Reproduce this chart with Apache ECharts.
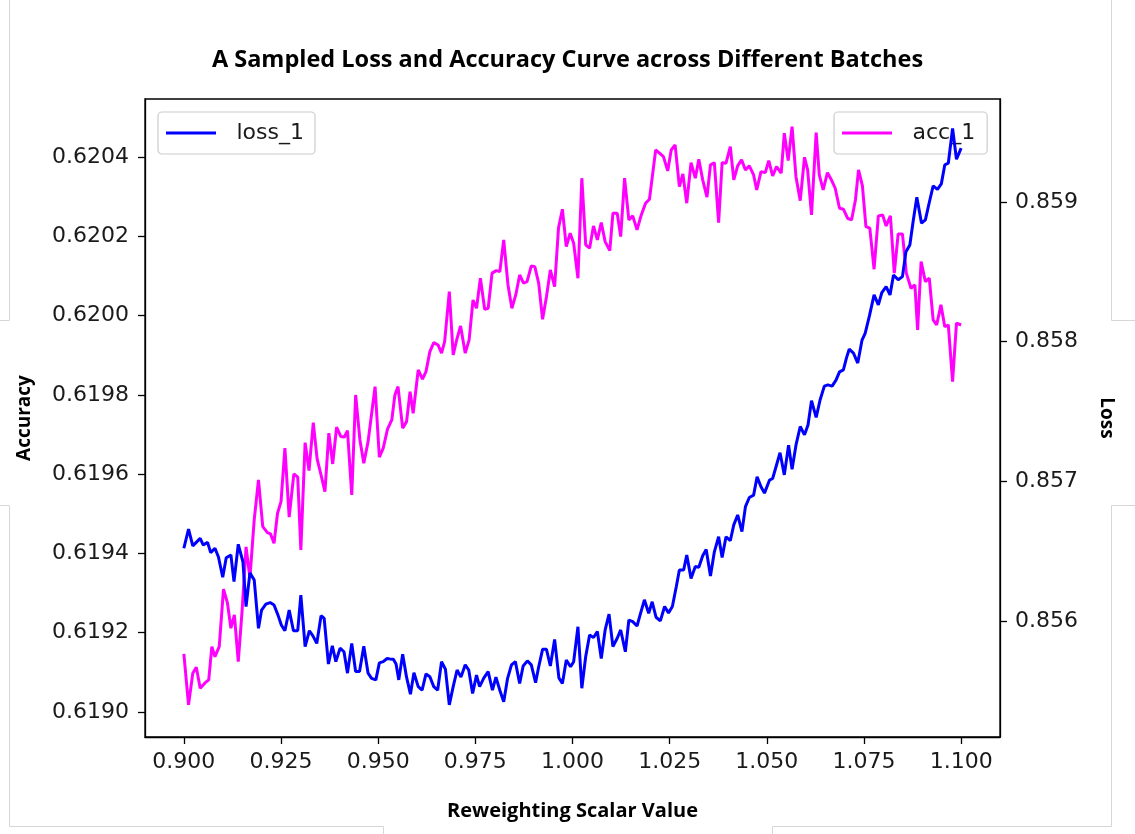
<!DOCTYPE html>
<html>
<head>
<meta charset="utf-8">
<script src="https://cdn.jsdelivr.net/npm/echarts@6/dist/echarts.min.js"></script>
<style>html,body{margin:0;padding:0;background:#fff;}#c{width:1135px;height:834px;}</style>
</head>
<body>
<div id="c"></div>
<script>
const TITLE = 'A Sampled Loss and Accuracy Curve across Different Batches';
const X_NAME = 'Reweighting Scalar Value';
const Y_LEFT_NAME = 'Accuracy';
const Y_RIGHT_NAME = 'Loss';
const xTicks = [0.900, 0.925, 0.950, 0.975, 1.000, 1.025, 1.050, 1.075, 1.100];
const leftTicks = [0.6190, 0.6192, 0.6194, 0.6196, 0.6198, 0.6200, 0.6202, 0.6204];
const rightTicks = [0.856, 0.857, 0.858, 0.859];

const lossX = [
0.9000,0.9012,0.9023,0.9042,0.9050,0.9061,0.9069,0.9080,0.9089,0.9100,
0.9109,0.9121,0.9129,0.9140,0.9152,0.9160,0.9170,0.9181,0.9192,0.9200,
0.9211,0.9222,0.9232,0.9242,0.9251,0.9260,0.9271,0.9282,0.9293,0.9301,
0.9312,0.9323,0.9332,0.9342,0.9353,0.9361,0.9372,0.9382,0.9391,0.9402,
0.9412,0.9421,0.9432,0.9442,0.9452,0.9463,0.9474,0.9483,0.9494,0.9503,
0.9513,0.9523,0.9530,0.9539,0.9546,0.9553,0.9563,0.9573,0.9583,0.9592,
0.9603,0.9613,0.9623,0.9633,0.9643,0.9653,0.9663,0.9673,0.9683,0.9693,
0.9703,0.9713,0.9724,0.9733,0.9743,0.9753,0.9761,0.9772,0.9783,0.9794,
0.9803,0.9813,0.9823,0.9833,0.9843,0.9853,0.9864,0.9873,0.9884,0.9894,
0.9905,0.9913,0.9923,0.9933,0.9943,0.9954,0.9965,0.9974,0.9984,0.9995,
1.0003,1.0014,1.0024,1.0034,1.0044,1.0054,1.0064,1.0074,1.0084,1.0094,
1.0104,1.0115,1.0124,1.0136,1.0145,1.0155,1.0166,1.0174,1.0185,1.0196,
1.0205,1.0215,1.0226,1.0237,1.0247,1.0257,1.0267,1.0275,1.0286,1.0294,
1.0305,1.0316,1.0325,1.0335,1.0344,1.0355,1.0365,1.0376,1.0385,1.0395,
1.0406,1.0415,1.0425,1.0436,1.0445,1.0455,1.0466,1.0475,1.0485,1.0494,
1.0507,1.0515,1.0525,1.0534,1.0545,1.0556,1.0565,1.0575,1.0586,1.0597,
1.0606,1.0615,1.0627,1.0637,1.0648,1.0657,1.0668,1.0678,1.0687,1.0697,
1.0705,1.0712,1.0723,1.0734,1.0745,1.0753,1.0764,1.0776,1.0787,1.0796,
1.0807,1.0817,1.0826,1.0838,1.0849,1.0858,1.0868,1.0877,1.0886,1.0898,
1.0908,1.0918,1.0928,1.0939,1.0949,1.0958,1.0967,1.0978,1.0988,1.1000
];
const lossY = [
0.619413,0.619461,0.619419,0.619438,0.619421,0.619428,0.619402,0.619413,0.619391,0.619340,
0.619389,0.619396,0.619329,0.619423,0.619379,0.619266,0.619351,0.619333,0.619211,0.619257,
0.619272,0.619276,0.619270,0.619245,0.619219,0.619205,0.619257,0.619205,0.619205,0.619295,
0.619165,0.619205,0.619192,0.619173,0.619243,0.619236,0.619121,0.619167,0.619127,0.619161,
0.619152,0.619098,0.619173,0.619102,0.619102,0.619166,0.619098,0.619085,0.619081,0.619124,
0.619127,0.619135,0.619134,0.619133,0.619121,0.619081,0.619146,0.619088,0.619045,0.619099,
0.619064,0.619055,0.619096,0.619089,0.619064,0.619055,0.619127,0.619108,0.619018,0.619064,
0.619106,0.619088,0.619119,0.619106,0.619047,0.619093,0.619064,0.619086,0.619102,0.619055,
0.619088,0.619055,0.619026,0.619085,0.619119,0.619127,0.619072,0.619116,0.619129,0.619119,
0.619074,0.619114,0.619158,0.619158,0.619116,0.619183,0.619086,0.619072,0.619131,0.619114,
0.619127,0.619215,0.619060,0.619140,0.619194,0.619188,0.619203,0.619135,0.619207,0.619247,
0.619165,0.619186,0.619207,0.619152,0.619232,0.619228,0.619217,0.619245,0.619283,0.619249,
0.619278,0.619239,0.619230,0.619266,0.619250,0.619266,0.619316,0.619358,0.619358,0.619396,
0.619337,0.619367,0.619365,0.619394,0.619410,0.619343,0.619404,0.619442,0.619390,0.619442,
0.619432,0.619472,0.619497,0.619455,0.619518,0.619541,0.619547,0.619593,0.619568,0.619552,
0.619585,0.619589,0.619623,0.619654,0.619598,0.619673,0.619612,0.619673,0.619720,0.619699,
0.619724,0.619785,0.619743,0.619787,0.619822,0.619825,0.619822,0.619837,0.619858,0.619863,
0.619893,0.619915,0.619905,0.619880,0.619938,0.619955,0.619999,0.620052,0.620027,0.620058,
0.620073,0.620052,0.620102,0.620090,0.620098,0.620161,0.620178,0.620241,0.620298,0.620233,
0.620241,0.620285,0.620327,0.620318,0.620332,0.620380,0.620384,0.620472,0.620394,0.620422
];
const accX = [
0.9000,0.9012,0.9023,0.9032,0.9042,0.9055,0.9064,0.9072,0.9080,0.9091,
0.9102,0.9112,0.9121,0.9130,0.9140,0.9150,0.9160,0.9170,0.9181,0.9192,
0.9203,0.9215,0.9223,0.9232,0.9241,0.9250,0.9260,0.9271,0.9283,0.9293,
0.9301,0.9312,0.9322,0.9333,0.9343,0.9353,0.9363,0.9373,0.9383,0.9393,
0.9404,0.9413,0.9421,0.9432,0.9442,0.9453,0.9463,0.9474,0.9483,0.9492,
0.9503,0.9513,0.9524,0.9535,0.9543,0.9551,0.9563,0.9573,0.9582,0.9590,
0.9603,0.9614,0.9623,0.9633,0.9643,0.9654,0.9663,0.9671,0.9683,0.9693,
0.9702,0.9712,0.9724,0.9734,0.9744,0.9753,0.9763,0.9774,0.9783,0.9793,
0.9804,0.9813,0.9823,0.9834,0.9844,0.9854,0.9864,0.9874,0.9883,0.9894,
0.9903,0.9913,0.9923,0.9933,0.9943,0.9954,0.9964,0.9974,0.9984,0.9994,
1.0003,1.0014,1.0024,1.0034,1.0044,1.0054,1.0064,1.0074,1.0084,1.0096,
1.0104,1.0115,1.0124,1.0134,1.0145,1.0155,1.0166,1.0177,1.0188,1.0198,
1.0214,1.0224,1.0234,1.0245,1.0254,1.0264,1.0275,1.0284,1.0294,1.0305,
1.0316,1.0325,1.0335,1.0346,1.0355,1.0365,1.0376,1.0385,1.0395,1.0406,
1.0415,1.0425,1.0435,1.0445,1.0455,1.0466,1.0474,1.0485,1.0496,1.0505,
1.0515,1.0525,1.0537,1.0545,1.0555,1.0565,1.0575,1.0586,1.0597,1.0605,
1.0615,1.0627,1.0635,1.0645,1.0656,1.0667,1.0676,1.0687,1.0697,1.0708,
1.0718,1.0728,1.0736,1.0746,1.0755,1.0765,1.0776,1.0787,1.0798,1.0807,
1.0818,1.0828,1.0838,1.0849,1.0859,1.0871,1.0881,1.0888,1.0897,1.0908,
1.0918,1.0928,1.0937,1.0948,1.0958,1.0967,1.0978,1.0988,1.1000
];
const accY = [
0.855764,0.855399,0.855626,0.855668,0.855518,0.855558,0.855578,0.855816,0.855744,0.855816,
0.856227,0.856131,0.855948,0.856043,0.855709,0.856079,0.856530,0.856308,0.856723,0.857010,
0.856675,0.856632,0.856623,0.856556,0.856771,0.856854,0.857237,0.856743,0.857053,0.857029,
0.856508,0.857277,0.857076,0.857420,0.857158,0.857045,0.856926,0.857344,0.857124,0.857387,
0.857320,0.857317,0.857363,0.856902,0.857618,0.857296,0.857129,0.857284,0.857482,0.857678,
0.857172,0.857237,0.857373,0.857439,0.857618,0.857678,0.857380,0.857427,0.857642,0.857487,
0.857797,0.857731,0.857785,0.857928,0.857993,0.857976,0.857917,0.858000,0.858358,0.857905,
0.858012,0.858112,0.857917,0.858012,0.858298,0.858239,0.858454,0.858232,0.858239,0.858490,
0.858508,0.858501,0.858728,0.858406,0.858239,0.858334,0.858477,0.858418,0.858429,0.858542,
0.858537,0.858418,0.858160,0.858322,0.858513,0.858394,0.858814,0.858948,0.858680,0.858776,
0.858704,0.858454,0.859170,0.858692,0.858669,0.858828,0.858728,0.858852,0.858716,0.858651,
0.858919,0.858919,0.858752,0.859170,0.858871,0.858900,0.858800,0.858907,0.858991,0.859019,
0.859372,0.859349,0.859324,0.859222,0.859372,0.859408,0.859110,0.859201,0.858991,0.859281,
0.859170,0.859306,0.859158,0.859034,0.859265,0.859281,0.858852,0.859281,0.859277,0.859396,
0.859158,0.859258,0.859301,0.859229,0.859258,0.859193,0.859086,0.859217,0.859210,0.859296,
0.859186,0.859253,0.859206,0.859492,0.859296,0.859539,0.859181,0.859009,0.859320,0.859229,
0.858907,0.859496,0.859193,0.859086,0.859210,0.859153,0.859098,0.858955,0.858948,0.858883,
0.858871,0.859014,0.859229,0.859115,0.858823,0.858812,0.858518,0.858900,0.858907,0.858828,
0.858900,0.858490,0.858771,0.858771,0.858490,0.858382,0.858406,0.858084,0.858573,0.858429,
0.858454,0.858155,0.858119,0.858263,0.858107,0.858119,0.857713,0.858132,0.858119
];

const lossData = lossX.map((x, i) => [x, lossY[i]]);
const accData = accX.map((x, i) => [x, accY[i]]);

const TICK_FONT = { fontFamily: 'DejaVu Sans', fontSize: 22, color: '#1a1a1a' };
const NAME_FONT = { fontFamily: 'Open Sans', fontWeight: 'bold', fontSize: 19, color: '#000' };
const AX_LINE = { show: true, onZero: false, lineStyle: { color: '#000', width: 1.3 } };
const legendIcon = 'path://M0,0H50V3H0Z M65,1.5L65.01,1.5L65.01,1.51Z';
const legendBase = {
  orient: 'horizontal', top: 112, itemWidth: 66, itemHeight: 3, z: 1,
  backgroundColor: '#fff', borderColor: '#cccccc', borderWidth: 1.2, borderRadius: 4,
  textStyle: { fontFamily: 'DejaVu Sans', fontSize: 22, color: '#1a1a1a' },
  selectedMode: false
};
const FRAME = '#d6d6d6';
const frameLine = (pts) => ({ type: 'polyline', silent: true, z: 0, shape: { points: pts }, style: { stroke: FRAME, lineWidth: 1, fill: null } });

const chart = echarts.init(document.getElementById('c'));
chart.setOption({
  animation: false,
  backgroundColor: '#fff',
  title: {
    text: TITLE, left: 'center', top: 48, padding: 0,
    textStyle: { fontFamily: 'Open Sans', fontWeight: 'bold', fontSize: 23.5, color: '#000' }
  },
  graphic: [
    frameLine([[9.5, 0], [9.5, 320.5], [0, 320.5]]),
    frameLine([[0, 505.5], [9.5, 505.5], [9.5, 826.5], [383.5, 826.5], [383.5, 834]]),
    frameLine([[1111.5, 0], [1111.5, 320.5], [1135, 320.5]]),
    frameLine([[1135, 505.5], [1111.5, 505.5], [1111.5, 826.5], [772.5, 826.5], [772.5, 834]])
  ],
  grid: { left: 145, right: 135, top: 99, bottom: 97, show: true, borderColor: '#000', borderWidth: 1.3, backgroundColor: '#fff', containLabel: false },
  legend: [
    Object.assign({}, legendBase, { left: 158, padding: [10, 11, 10, 8], data: [{ name: 'loss_1', icon: legendIcon, itemStyle: { color: '#0000ff' } }] }),
    Object.assign({}, legendBase, { left: 834, padding: [10, 12, 10, 8], data: [{ name: 'acc_1', icon: legendIcon, itemStyle: { color: '#ff00ff' } }] })
  ],
  xAxis: {
    type: 'value', min: 0.89, max: 1.11,
    axisLine: AX_LINE,
    axisTick: { show: true, length: 7, customValues: xTicks, lineStyle: { color: '#000', width: 1.3 } },
    axisLabel: { customValues: xTicks, formatter: v => v.toFixed(3), margin: 14, ...TICK_FONT },
    splitLine: { show: false },
    name: X_NAME, nameLocation: 'middle', nameGap: 64, nameTextStyle: Object.assign({}, NAME_FONT, { fontSize: 20 })
  },
  yAxis: [
    {
      type: 'value', position: 'left', min: 0.618937, max: 0.620546,
      axisLine: AX_LINE,
      axisTick: { show: true, length: 7, customValues: leftTicks, lineStyle: { color: '#000', width: 1.3 } },
      axisLabel: { customValues: leftTicks, formatter: v => v.toFixed(4), margin: 16, ...TICK_FONT },
      splitLine: { show: false },
      name: Y_LEFT_NAME, nameLocation: 'middle', nameGap: 111, nameTextStyle: NAME_FONT
    },
    {
      type: 'value', position: 'right', min: 0.855169, max: 0.859737,
      axisLine: AX_LINE,
      axisTick: { show: true, length: 7, customValues: rightTicks, lineStyle: { color: '#000', width: 1.3 } },
      axisLabel: { customValues: rightTicks, formatter: v => v.toFixed(3), margin: 15, ...TICK_FONT },
      splitLine: { show: false },
      name: Y_RIGHT_NAME, nameLocation: 'middle', nameGap: 97, nameRotate: -90, nameTextStyle: NAME_FONT
    }
  ],
  series: [
    {
      name: 'loss_1', type: 'line', yAxisIndex: 0, data: lossData,
      symbol: 'none', showSymbol: false, smooth: false,
      lineStyle: { color: '#0000ff', width: 3 }, itemStyle: { color: '#0000ff' }, z: 6
    },
    {
      name: 'acc_1', type: 'line', yAxisIndex: 1, data: accData,
      symbol: 'none', showSymbol: false, smooth: false,
      lineStyle: { color: '#ff00ff', width: 3 }, itemStyle: { color: '#ff00ff' }, z: 5
    }
  ]
});
</script>
</body>
</html>
